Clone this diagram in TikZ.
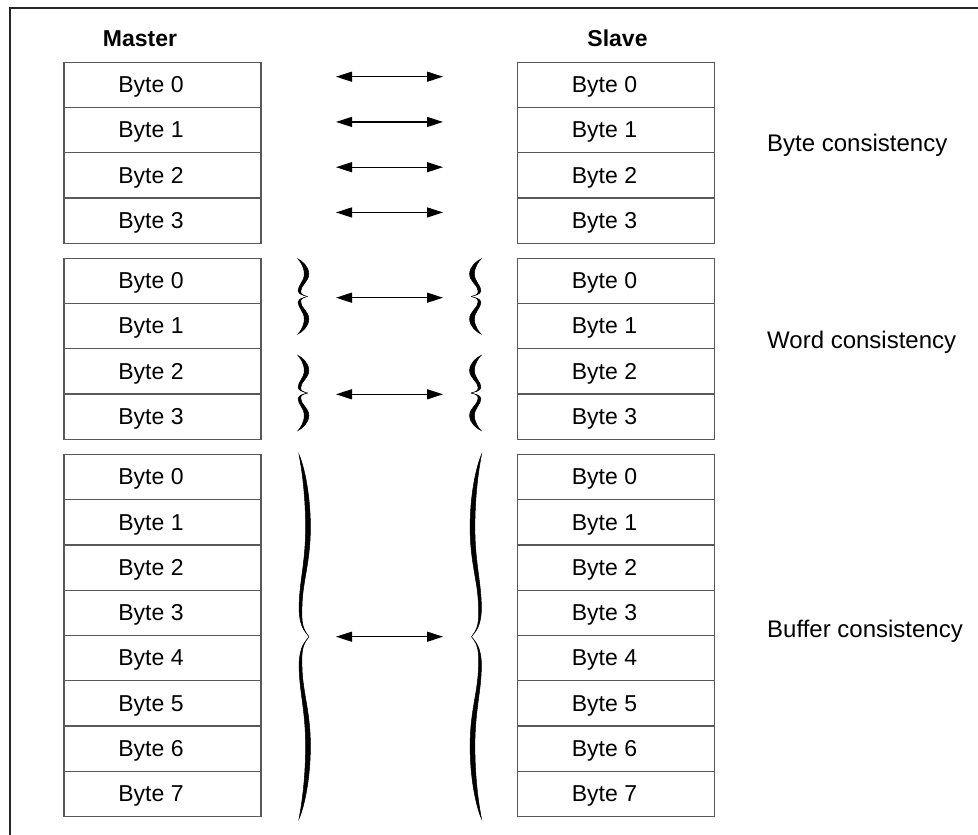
\documentclass[tikz,border=0pt]{standalone}
\usepackage{fontspec}
\setmainfont{Liberation Sans}
\usetikzlibrary{arrows.meta}
\newcommand{\fsz}{\fontsize{23pt}{27pt}\selectfont}
\newcommand{\fszs}{\fontsize{24pt}{28pt}\selectfont}
\def\brd{0.24}
% curly brace: x of ends, y of tip, signed width, half height
\newcommand{\curlybr}[4]{%
  \foreach \sg in {1,-1}{%
  \begin{scope}[shift={(#1,#2)}, xscale=#3, yscale=#4*\sg]
    \filldraw[bracefill]
      (0,-1) .. controls ({0.3+0.5*\brd},-0.95) and ({0.9+\brd},-0.8) .. ({0.9+\brd},-0.6)
             .. controls ({0.9+\brd},-0.4) and ({0.15+0.6*\brd},-0.3) .. ({0.15+0.6*\brd},-0.15)
             .. controls ({0.15+0.3*\brd},-0.05) and (0.6,-0.03) .. (1,0)
             .. controls (0.6,-0.03) and ({0.15-0.3*\brd},-0.05) .. ({0.15-0.6*\brd},-0.15)
             .. controls ({0.15-0.6*\brd},-0.3) and ({0.9-\brd},-0.4) .. ({0.9-\brd},-0.6)
             .. controls ({0.9-\brd},-0.8) and ({0.3-0.5*\brd},-0.95) .. (0,-1) -- cycle;
  \end{scope}}}
\begin{document}
\begin{tikzpicture}[x=1pt,y=-1pt,
  cell/.style={draw=black!65, line width=1.2pt, minimum width=197pt, minimum height=45.25pt,
               inner sep=0pt, outer sep=0pt, anchor=north west},
  celltext/.style={font=\fsz, anchor=base, inner sep=0pt},
  head/.style={font=\fsz\bfseries, anchor=base, inner sep=0pt},
  side/.style={font=\fszs, anchor=base west, inner sep=0pt},
  arr/.style={line width=1.3pt, {Triangle[length=16pt,width=10pt]}-{Triangle[length=16pt,width=10pt]}},
  bracefill/.style={fill=black, draw=black, line width=0.5pt},
  frame/.style={draw=black!85, line width=1.5pt}]
\useasboundingbox (0,0) rectangle (978,835);
\fill[white] (0,0) rectangle (978,835);
% frame
\coordinate (fbl) at (10,836);
\coordinate (ftl) at (10,8);
\coordinate (ftr) at (979,8);
\draw[frame] (fbl) -- (ftl) -- (ftr);
% headers
\node[head] (master) at (140,46.7) {Master};
\node[head] (slave) at (617.5,46.7) {Slave};
% group 1
\foreach \i in {0,...,3}{
  \node[cell] (ma-\i) at (64,{62.3+45.25*\i}) {};
  \node[cell] (sa-\i) at (517.7,{62.3+45.25*\i}) {};
  \node[celltext] (mta-\i) at (151,{62.3+45.25*\i+22.6+7.8}) {Byte \i};
  \node[celltext] (sta-\i) at (604.5,{62.3+45.25*\i+22.6+7.8}) {Byte \i};
  \coordinate (la-\i) at (336,{62.3+45.25*\i+22.6-8.2});
  \coordinate (ra-\i) at (443,{62.3+45.25*\i+22.6-8.2});
  \draw[arr] (la-\i) -- (ra-\i);
}
% group 2
\foreach \i in {0,...,3}{
  \node[cell] (mb-\i) at (64,{258.3+45.25*\i}) {};
  \node[cell] (sb-\i) at (517.7,{258.3+45.25*\i}) {};
  \node[celltext] (mtb-\i) at (151,{258.3+45.25*\i+22.6+7.8}) {Byte \i};
  \node[celltext] (stb-\i) at (604.5,{258.3+45.25*\i+22.6+7.8}) {Byte \i};
}
% group 3
\foreach \i in {0,...,7}{
  \node[cell] (mc-\i) at (64,{454.5+45.25*\i}) {};
  \node[cell] (sc-\i) at (517.7,{454.5+45.25*\i}) {};
  \node[celltext] (mtc-\i) at (151,{454.5+45.25*\i+22.6+7.8}) {Byte \i};
  \node[celltext] (stc-\i) at (604.5,{454.5+45.25*\i+22.6+7.8}) {Byte \i};
}
% word arrows
\coordinate (lb-1) at (336,297.7);
\coordinate (rb-1) at (443,297.7);
\coordinate (lb-2) at (336,394.3);
\coordinate (rb-2) at (443,394.3);
\draw[arr] (lb-1) -- (rb-1);
\draw[arr] (lb-2) -- (rb-2);
% buffer arrow
\coordinate (lc) at (336,636.7);
\coordinate (rc) at (443,636.7);
\draw[arr] (lc) -- (rc);
% braces
\curlybr{298}{296.5}{9.5}{37.5}
\curlybr{298}{393}{9.5}{37.5}
\curlybr{481}{296.5}{-10}{37.5}
\curlybr{481}{393}{-10}{37.5}
\curlybr{299}{636.7}{10}{182}
\curlybr{481.5}{636.7}{-10}{182}
% side labels
\node[side] (bytec) at (767,151.7) {Byte consistency};
\node[side] (wordc) at (767,348.5) {Word consistency};
\node[side] (bufc) at (767,637) {Buffer consistency};
\end{tikzpicture}
\end{document}
